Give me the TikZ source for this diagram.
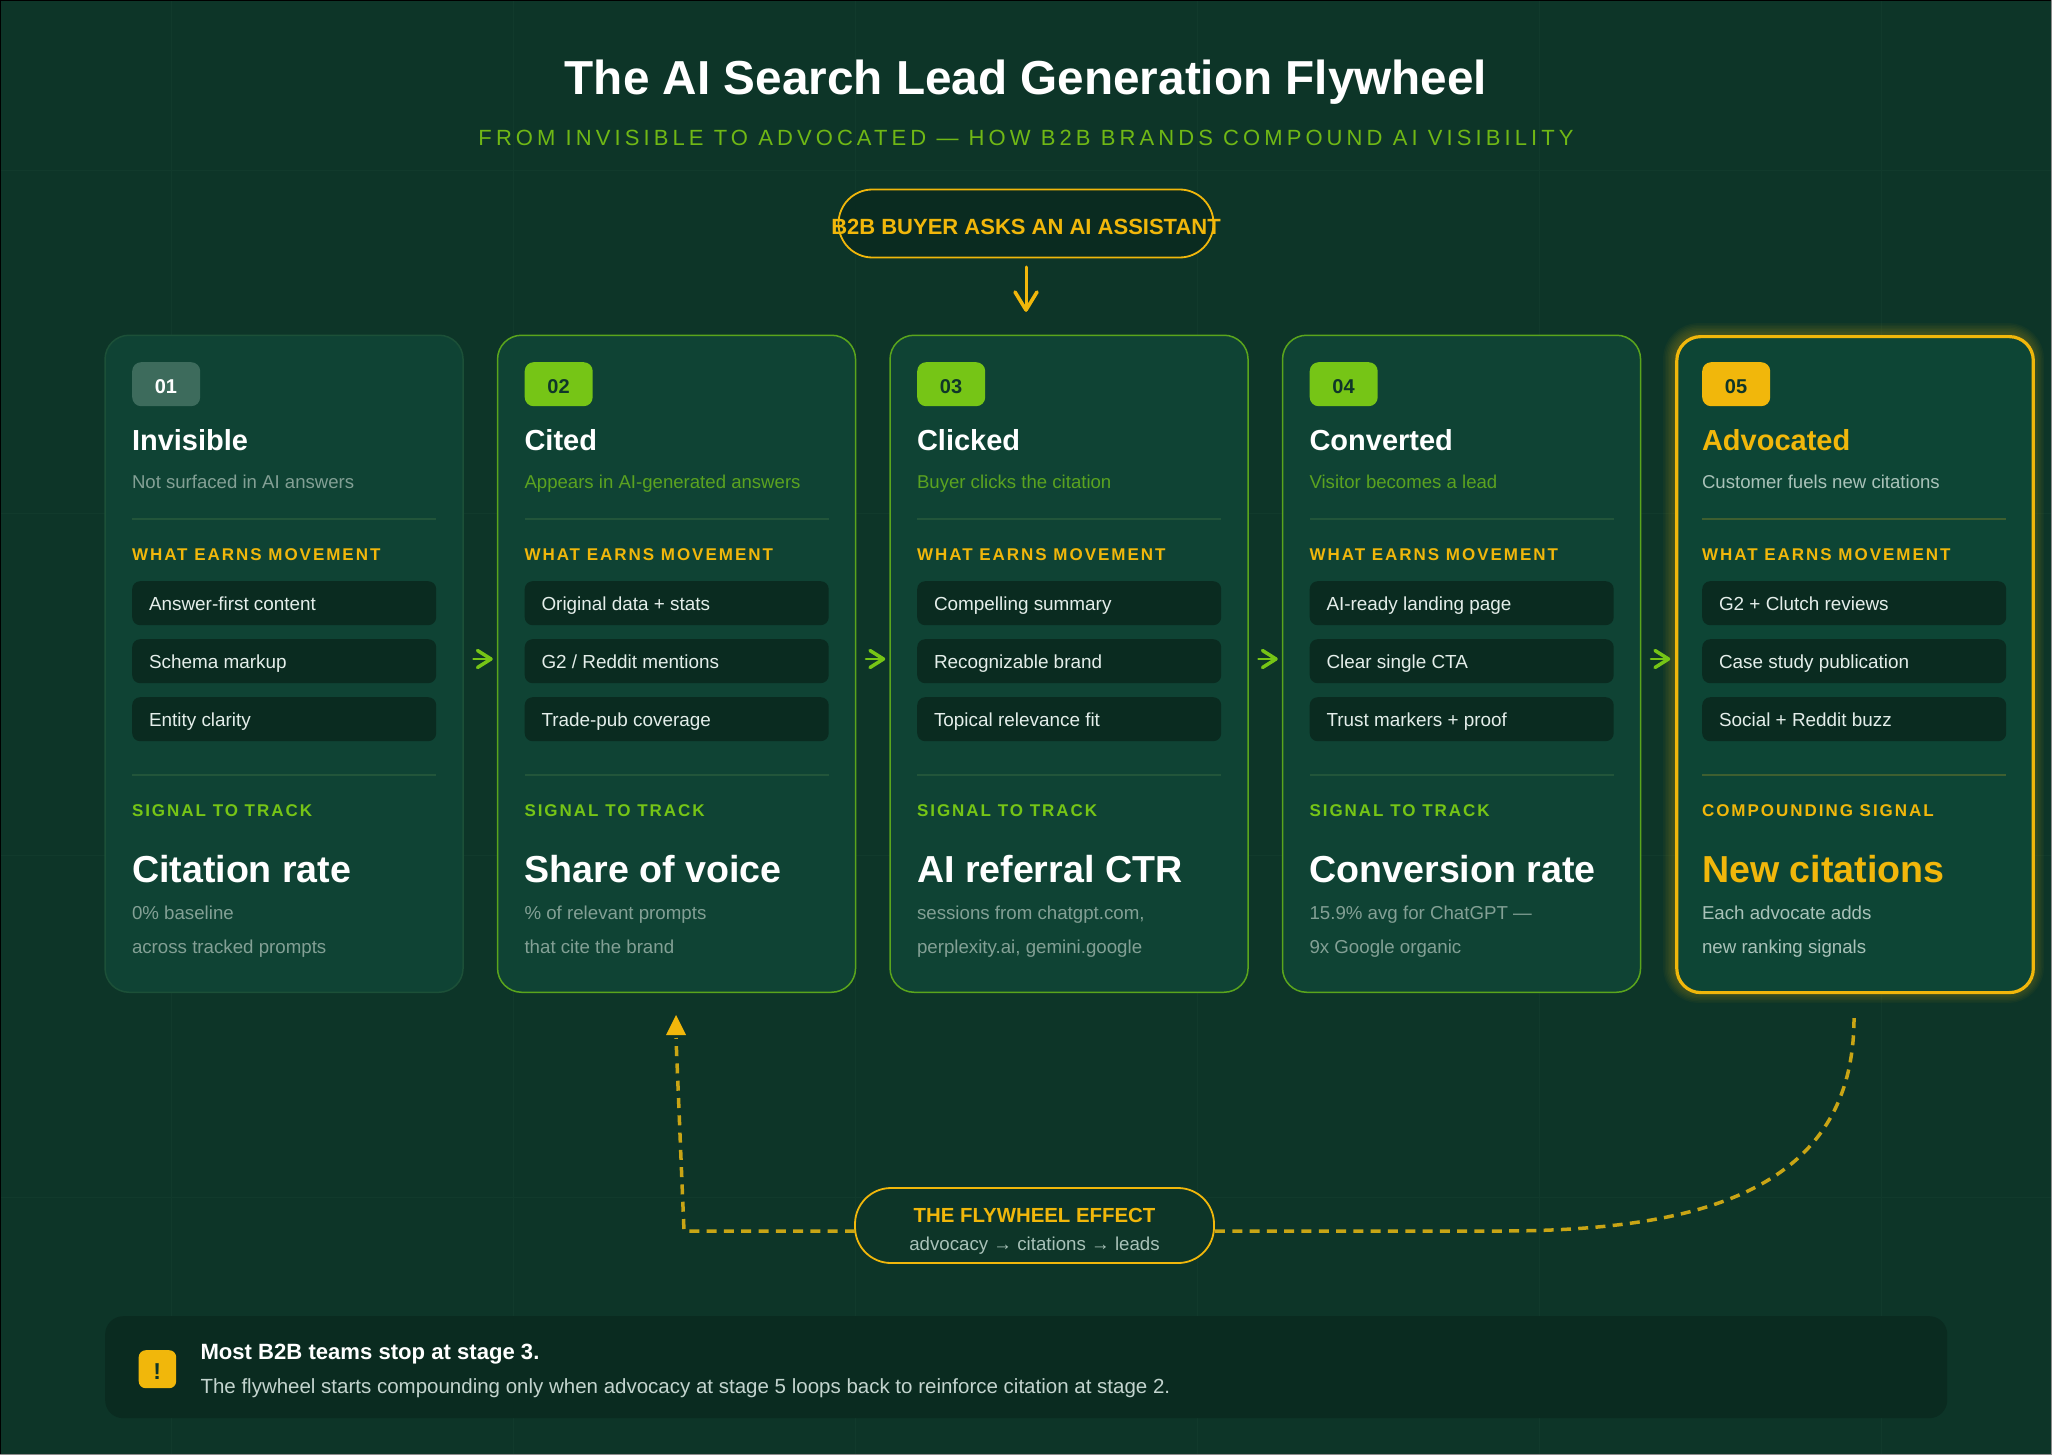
\documentclass[tikz,border=0pt]{standalone}
\usepackage{fontspec}
\setmainfont{Liberation Sans}
\usetikzlibrary{calc}
\definecolor{bgc}{HTML}{0D3528}
\definecolor{gridc}{HTML}{113A2C}
\definecolor{cardc}{HTML}{0F4334}
\definecolor{cardg}{HTML}{0D4535}
\definecolor{darkc}{HTML}{0A2B20}
\definecolor{greenc}{HTML}{76C516}
\definecolor{greenm}{HTML}{70B815}
\definecolor{greenb}{HTML}{5AA51C}
\definecolor{greens}{HTML}{5BA320}
\definecolor{goldc}{HTML}{F1B70B}
\definecolor{goldd}{HTML}{C9A515}
\definecolor{muted}{HTML}{83A095}
\definecolor{mutedl}{HTML}{A9C2B9}
\definecolor{chipt}{HTML}{E4EEEA}
\definecolor{divc}{HTML}{22553A}
\definecolor{divg}{HTML}{3E5F30}
\definecolor{badgeg}{HTML}{3D6B5C}
\definecolor{badget}{HTML}{0F3629}
\newcommand\fs[1]{\fontsize{#1}{#1}\selectfont}
\tikzset{
  txt/.style={inner sep=0pt,outer sep=0pt,anchor=base west},
  cardbox/.style={anchor=north west,minimum width=358pt,minimum height=657pt,inner sep=0pt,rounded corners=24pt,fill=cardc},
  badgebox/.style={anchor=north west,minimum width=68pt,minimum height=44pt,inner sep=0pt,rounded corners=9pt},
  badgetxt/.style={inner sep=0pt,anchor=base,font=\fs{20}\bfseries},
  chipbox/.style={anchor=north west,minimum width=304pt,minimum height=44pt,inner sep=0pt,rounded corners=8pt,fill=darkc},
  pillbox/.style={inner sep=0pt,rounded corners=34pt,draw=goldc,line width=1.8pt},
  sidearrow/.style={draw=greenc,line width=3.5pt,line cap=round,line join=round},
  entryarrow/.style={draw=goldc,line width=3pt,line cap=round,line join=round},
  looparrow/.style={draw=goldd,line width=3.5pt,dash pattern=on 10pt off 7.3pt},
}
\colorlet{subc}{muted}
\colorlet{titlec}{white}
\colorlet{notec}{muted}
\colorlet{divl}{divc}
\colorlet{siglab}{greenc}
\colorlet{metricc}{white}
\newcommand\stagetop[4]{% id, x, title, sub
  \node[txt,text=titlec,font=\fs{29}\bfseries] (title#1) at ({#2+28},450.5) {#3};
  \node[txt,text=subc,font=\fs{18.6}] (sub#1) at ({#2+28},488) {#4};
  \draw[divl,line width=1.5pt] ({#2+28},519) -- ({#2+332},519);
  \node[txt,text=goldc,font=\fs{17}\bfseries\addfontfeatures{LetterSpace=11.6}] (lab#1) at ({#2+28},560) {WHAT EARNS MOVEMENT};
}
\newcommand\chip[4]{% id, x, y top, text
  \node[chipbox] (chip#1) at ({#2+28},#3) {};
  \node[txt,text=chipt,font=\fs{18.9}] (chipt#1) at ({#2+45},{#3+29}) {#4};
}
\newcommand\stagelow[6]{% id,x,label,metric,note1,note2
  \draw[divl,line width=1.5pt] ({#2+28},775) -- ({#2+332},775);
  \node[txt,text=siglab,font=\fs{17}\bfseries\addfontfeatures{LetterSpace=11.6}] (sig#1) at ({#2+28},816) {#3};
  \node[txt,text=metricc,font=\fs{37.6}\bfseries] (met#1) at ({#2+28},882) {#4};
  \node[txt,text=notec,font=\fs{18.7}] (nota#1) at ({#2+28},919) {#5};
  \node[txt,text=notec,font=\fs{18.7}] (notb#1) at ({#2+28},953) {#6};
}
\begin{document}
\begin{tikzpicture}[x=1pt,y=-1pt]
\useasboundingbox (0,0) rectangle (2052,1455);
\fill[bgc] (0,0) rectangle (2052,1455);
% faint grid
\foreach \g in {171,513,855,1197,1539,1881} \draw[gridc,line width=1pt] (\g,0) -- (\g,1455);
\foreach \g in {171,513,855,1197} \draw[gridc,line width=1pt] (0,\g) -- (2052,\g);
% image edge
\draw[black,line width=1pt] (0.5,1455) -- (0.5,0.5) -- (2052,0.5);
\draw[black!45,line width=1pt] (0,1454.5) -- (2051.5,1454.5) -- (2051.5,0);

% title
\node[inner sep=0pt,anchor=base,text=white,font=\fs{47.7}\bfseries] (maintitle) at (1026,95) {The AI Search Lead Generation Flywheel};
\node[inner sep=0pt,anchor=base,text=greenm,font=\fs{22}\addfontfeatures{LetterSpace=18.6}] (subtitle) at (1026,145.5) {FROM INVISIBLE TO ADVOCATED — HOW B2B BRANDS COMPOUND AI VISIBILITY};

% top pill
\node[pillbox,fill=darkc,minimum width=375pt,minimum height=68pt] (buyer) at (1026,223.5) {};
\node[inner sep=0pt,anchor=base,text=goldc,font=\fs{22}\bfseries] (buyertext) at (1026,235) {B2B BUYER ASKS AN AI ASSISTANT};
\coordinate (entry) at (1026,267);
\coordinate (entryend) at (1026,310);
\draw[entryarrow] (entry) -- (entryend);
\draw[entryarrow,line width=3.6pt] ($(entryend)+(-11,-18)$) -- (entryend) -- ($(entryend)+(11,-18)$);

% glow of card 5
\foreach \w in {3,6,...,24}
  \draw[goldc,opacity=.035,line width=\w pt,rounded corners=24pt] (1675,335) rectangle (2032,991);

% cards
\node[cardbox,draw=divc!70!cardc,line width=1.5pt] (card1) at (104.3,334.5) {};
\node[cardbox,draw=greenb,line width=1.5pt] (card2) at (496.8,334.5) {};
\node[cardbox,draw=greenb,line width=1.5pt] (card3) at (889.3,334.5) {};
\node[cardbox,draw=greenb,line width=1.5pt] (card4) at (1281.8,334.5) {};
\node[cardbox,fill=cardg,draw=goldc,line width=3.2pt,minimum width=356.5pt,minimum height=656pt] (card5) at (1675.2,335) {};

% card 1
\node[badgebox,fill=badgeg] (badge1) at (132,362) {};
\node[badgetxt,text=white] (num1) at (166,393) {01};
\stagetop{1}{104}{Invisible}{Not surfaced in AI answers}
\chip{1a}{104}{581}{Answer-first content}
\chip{1b}{104}{639}{Schema markup}
\chip{1c}{104}{697}{Entity clarity}
\stagelow{1}{104}{SIGNAL TO TRACK}{Citation rate}{0\% baseline}{across tracked prompts}

% cards 2-4
\colorlet{subc}{greens}
\node[badgebox,fill=greenc] (badge2) at (524.5,362) {};
\node[badgetxt,text=badget] (num2) at (558.5,393) {02};
\stagetop{2}{496.5}{Cited}{Appears in AI-generated answers}
\chip{2a}{496.5}{581}{Original data + stats}
\chip{2b}{496.5}{639}{G2 / Reddit mentions}
\chip{2c}{496.5}{697}{Trade-pub coverage}
\stagelow{2}{496.5}{SIGNAL TO TRACK}{Share of voice}{\% of relevant prompts}{that cite the brand}

\node[badgebox,fill=greenc] (badge3) at (917,362) {};
\node[badgetxt,text=badget] (num3) at (951,393) {03};
\stagetop{3}{889}{Clicked}{Buyer clicks the citation}
\chip{3a}{889}{581}{Compelling summary}
\chip{3b}{889}{639}{Recognizable brand}
\chip{3c}{889}{697}{Topical relevance fit}
\stagelow{3}{889}{SIGNAL TO TRACK}{AI referral CTR}{sessions from chatgpt.com,}{perplexity.ai, gemini.google}

\node[badgebox,fill=greenc] (badge4) at (1309.5,362) {};
\node[badgetxt,text=badget] (num4) at (1343.5,393) {04};
\stagetop{4}{1281.5}{Converted}{Visitor becomes a lead}
\chip{4a}{1281.5}{581}{AI-ready landing page}
\chip{4b}{1281.5}{639}{Clear single CTA}
\chip{4c}{1281.5}{697}{Trust markers + proof}
\stagelow{4}{1281.5}{SIGNAL TO TRACK}{Conversion rate}{15.9\% avg for ChatGPT —}{9x Google organic}

% card 5
\colorlet{subc}{mutedl}
\colorlet{titlec}{goldc}
\colorlet{notec}{mutedl}
\colorlet{divl}{divg}
\colorlet{siglab}{goldc}
\colorlet{metricc}{goldc}
\node[badgebox,fill=goldc] (badge5) at (1702,362) {};
\node[badgetxt,text=badget] (num5) at (1736,393) {05};
\stagetop{5}{1674}{Advocated}{Customer fuels new citations}
\chip{5a}{1674}{581}{G2 + Clutch reviews}
\chip{5b}{1674}{639}{Case study publication}
\chip{5c}{1674}{697}{Social + Reddit buzz}
\stagelow{5}{1674}{COMPOUNDING SIGNAL}{New citations}{Each advocate adds}{new ranking signals}

% side arrows
\foreach \i/\xs in {1/473.5,2/866,3/1258.5,4/1651}{
  \coordinate (sa\i) at (\xs,659);
  \coordinate (sb\i) at ({\xs+17.5},659);
  \draw[sidearrow,line width=2.6pt] (sa\i) -- (sb\i);
  \draw[sidearrow] ($(sb\i)+(-13.5,-8.5)$) -- (sb\i) -- ($(sb\i)+(-13.5,8.5)$);
}

% flywheel pill
\node[pillbox,fill=bgc,minimum width=359pt,minimum height=75pt,rounded corners=36pt] (fly) at (1034.5,1225.5) {};
\node[inner sep=0pt,anchor=base,text=goldc,font=\fs{20.4}\bfseries] (flytitle) at (1034.5,1222) {THE FLYWHEEL EFFECT};
\node[inner sep=0pt,anchor=base,text=mutedl,font=\fs{18.7}] (flytext) at (1034.5,1250) {advocacy → citations → leads};

% loop
\coordinate (loopcorner) at (684,1231);
\coordinate (looptop) at (676,1038);
\coordinate (loopleft) at (855,1231);
\coordinate (loopright) at (1214,1231);
\coordinate (loopmid) at (1500,1231);
\coordinate (loopstart) at (1854,1018);
\coordinate (tiptop) at (676,1015);
\draw[looparrow] (loopleft) -- (loopcorner) -- (looptop);
\fill[goldc] (tiptop) -- (686,1035) -- (666,1035) -- cycle;
\draw[looparrow] (loopstart) .. controls (1854,1190) and (1700,1231) .. (loopmid) -- (loopright);

% bottom bar
\node[anchor=north west,minimum width=1842pt,minimum height=102pt,inner sep=0pt,rounded corners=18pt,fill=darkc] (bar) at (105,1316) {};
\node[anchor=north west,minimum width=37.5pt,minimum height=38pt,inner sep=0pt,rounded corners=7pt,fill=goldc] (warn) at (138.5,1350) {};
\node[inner sep=0pt,anchor=base,text=badget,font=\fs{23}\bfseries] (warnmark) at (157.25,1379) {!};
\node[txt,text=white,font=\fs{22.1}\bfseries] (bartitle) at (200.5,1359) {Most B2B teams stop at stage 3.};
\node[txt,text=mutedl!70!white,font=\fs{20.5}] (bartext) at (200.5,1393) {The flywheel starts compounding only when advocacy at stage 5 loops back to reinforce citation at stage 2.};
\end{tikzpicture}
\end{document}
